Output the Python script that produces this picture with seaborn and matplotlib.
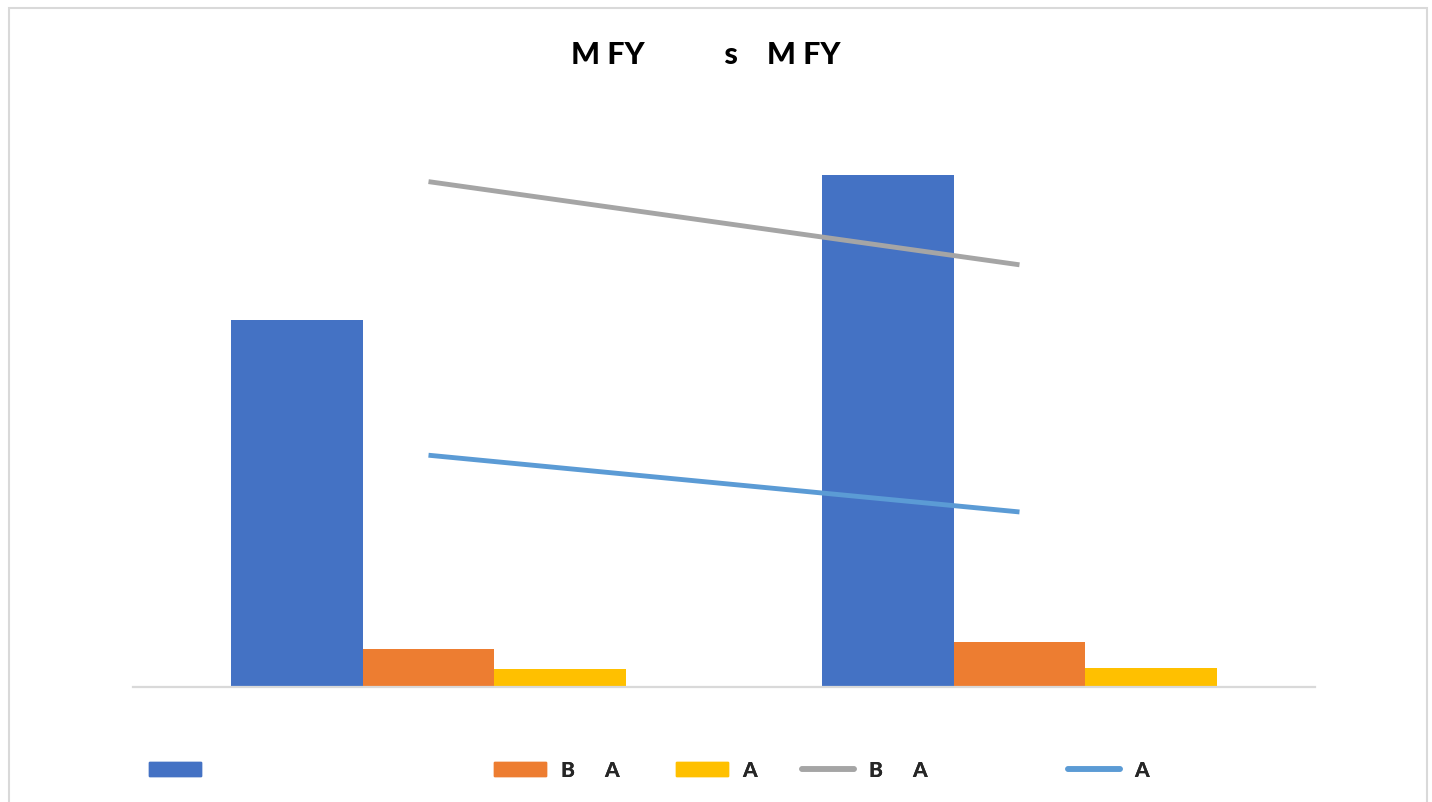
import numpy as np
import pandas as pd
import matplotlib
matplotlib.use("Agg")
import matplotlib.pyplot as plt
from matplotlib.patches import Rectangle, Patch
from matplotlib.lines import Line2D
import seaborn as sns

# ---- data ----
categories = ["FY1", "FY2"]
bar_series = ["", "B      A", "A"]
bar_blue = [76.3, 106.3]
bar_orange = [7.9, 9.2]
bar_yellow = [3.6, 3.9]
line_grey_label = "B      A"
line_grey = [105.0, 87.7]
line_blue_label = "A"
line_blue = [48.1, 36.3]
title_text = "M FY           s    M FY"

bar_colors = ["#4472C4", "#ED7D31", "#FFC000"]
grey_col = "#A5A5A5"
lblue_col = "#5B9BD5"

df = pd.DataFrame({
    "cat": categories * 3,
    "series": [bar_series[0]] * 2 + [bar_series[1]] * 2 + [bar_series[2]] * 2,
    "value": bar_blue + bar_orange + bar_yellow,
})

sns.set_theme(style="white")
plt.rcParams["font.family"] = ["Lato", "DejaVu Sans"]

W, H = 1432, 803
fig = plt.figure(figsize=(W / 100, H / 100), dpi=100)
ax = fig.add_axes([133 / W, 1 - 687.5 / H, 1182 / W, 577 / H])

sns.barplot(data=df, x="cat", y="value", hue="series", hue_order=bar_series,
            palette=bar_colors, width=0.667, saturation=1, linewidth=0,
            legend=False, ax=ax, zorder=2)

xpos = np.arange(len(categories))
sns.lineplot(x=xpos, y=line_grey, color=grey_col, linewidth=3.5, ax=ax,
             zorder=3, solid_capstyle="butt")
sns.lineplot(x=xpos, y=line_blue, color=lblue_col, linewidth=3.5, ax=ax,
             zorder=3, solid_capstyle="butt")

ax.set_xlim(-0.5, len(categories) - 0.5)
ax.set_ylim(0, 120)
ax.set_xlabel("")
ax.set_ylabel("")
ax.set_xticks([])
ax.set_yticks([])
for s in ["top", "left", "right"]:
    ax.spines[s].set_visible(False)
ax.spines["bottom"].set_color("#D9D9D9")
ax.spines["bottom"].set_linewidth(1.6)
ax.set_facecolor("none")

# title
fig.text(706 / W, 1 - 55 / H, title_text, ha="center", va="center",
         fontsize=22, fontweight="black", color="black")

# legend entries laid out along the bottom
legend_items = [
    (Patch(color=bar_colors[0]), bar_series[0], 149),
    (Patch(color=bar_colors[1]), bar_series[1], 494),
    (Patch(color=bar_colors[2]), bar_series[2], 676),
    (Line2D([], [], color=grey_col, lw=4, solid_capstyle="round"), line_grey_label, 802),
    (Line2D([], [], color=lblue_col, lw=4, solid_capstyle="round"), line_blue_label, 1068),
]
fs = 15
for handle, label, x0 in legend_items:
    leg = fig.legend([handle], [label if label else " "], loc="center left",
                     bbox_to_anchor=(x0 / W, 1 - 771 / H), frameon=False,
                     borderpad=0, borderaxespad=0, handlelength=52 / (fs * 100 / 72),
                     handleheight=0.68, handletextpad=0.7,
                     prop={"size": fs, "weight": "black"})
    fig.add_artist(leg)

# chart border
fig.add_artist(Rectangle((8.5 / W, -0.02), (1427 - 8.5) / W, (H - 8.5) / H + 0.02,
                         transform=fig.transFigure, fill=False,
                         edgecolor="#D9D9D9", linewidth=1.5))

fig.savefig("out.png", dpi=100)
